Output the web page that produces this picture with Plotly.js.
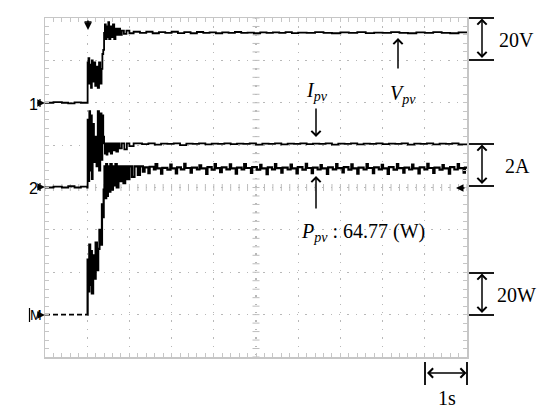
<!DOCTYPE html>
<html><head><meta charset="utf-8">
<script src="https://cdn.plot.ly/plotly-3.0.1.min.js"></script>
<style>html,body{margin:0;padding:0;background:#fff;}#chart{width:550px;height:414px;}</style>
</head><body><div id="chart"></div>
<script>
// ---- data (time in s, 1 s/div) ----
const tVpv = [0,0.2,0.4,0.55,0.7,0.85,1.00,1.01,1.03,1.05,1.07,1.09,1.11,1.13,1.16,1.19,1.22,1.25,1.28,1.31,1.34,1.36,1.38,1.40,1.42,1.44,1.46,1.48,1.50,1.52,1.55,1.58,1.61,1.64,1.67,1.70,1.74,1.78,1.82,1.87,1.93,2.00,2.10,2.25,2.4,2.55,2.7,2.85,3.0,3.15,3.3,3.45,3.6,3.75,3.9,4.05,4.2,4.35,4.5,4.65,4.8,4.95,5.1,5.25,5.4,5.55,5.7,5.85,6.0,6.2,6.4,6.6,6.8,7.0,7.2,7.4,7.6,7.8,8.0,8.2,8.4,8.6,8.8,9.0,9.2,9.4,9.6,9.8,10];
const vpv = [0,0.3,0,-0.3,0.2,0,0,19,21,9,18,7,20,10,19,8,17,7,19,9,16,23,25,33,37,30,36,31,38,30,36,31,37,30,35,32,35,32,34,32.5,34,32.8,33.5,33,33.5,32.8,33.3,33,33.5,32.9,33.3,32.8,33.4,33,33.2,32.8,33.2,33,33.4,33,33.1,32.8,33.2,33,33.2,33,33.3,32.9,33.1,33,33.3,33,32.8,33.2,33,33.3,32.9,33.1,33,33.3,33,32.8,33.2,33,33.3,33,32.8,33.2,33];

const tIpv = [0,0.2,0.4,0.55,0.7,0.85,1.00,1.01,1.03,1.05,1.07,1.09,1.11,1.13,1.16,1.19,1.22,1.25,1.28,1.31,1.34,1.36,1.38,1.40,1.42,1.44,1.46,1.48,1.50,1.53,1.56,1.59,1.62,1.65,1.69,1.73,1.77,1.82,1.88,1.94,2.0,2.1,2.3,2.45,2.6,2.75,2.9,3.05,3.2,3.35,3.5,3.65,3.8,3.95,4.1,4.25,4.4,4.55,4.7,4.85,5.0,5.15,5.3,5.45,5.6,5.75,5.9,6.05,6.2,6.35,6.5,6.65,6.8,6.95,7.1,7.25,7.4,7.55,7.7,7.85,8.0,8.15,8.3,8.45,8.6,8.75,8.9,9.05,9.2,9.35,9.5,9.65,9.8,10];
const ipv = [0,0.04,0,0.06,0,0.04,0,3.2,0.3,3.6,0.8,3.4,0.4,3.0,1.2,2.4,1.0,3.6,0.8,3.5,1.3,3.4,2.4,2.08,1.6,2.08,1.55,2.08,1.7,2.08,1.6,2.08,1.75,2.08,1.7,2.08,1.85,2.08,1.8,2.08,1.95,2.08,2.05,2.08,2.02,2.07,2.06,2.08,2.0,2.07,2.06,2.08,2.04,2.07,2.06,2.08,2.05,2.07,2.06,2.08,2.02,2.07,2.06,2.08,2.04,2.07,2.06,2.08,2.05,2.07,2.06,2.08,2.02,2.07,2.06,2.08,2.04,2.07,2.06,2.08,2.05,2.07,2.06,2.08,2.02,2.07,2.06,2.08,2.04,2.07,2.06,2.08,2.03,2.07];

const tPpvPre = [0,1.0];
const ppvPre = [0,0];
const tPpv = [1.00,1.01,1.03,1.05,1.07,1.09,1.11,1.14,1.17,1.20,1.23,1.26,1.29,1.32,1.35,1.37,1.39,1.41,1.43,1.45,1.47,1.49,1.52,1.55,1.58,1.61,1.64,1.67,1.70,1.74,1.78,1.82,1.86,1.90,1.95,2.0,2.06,2.12,
  2.2,2.25,2.32,2.36,2.45,2.48,2.58,2.62,2.66,2.75,2.78,2.9,2.97,3.0,3.1,3.13,3.22,3.3,3.33,3.45,3.48,3.6,3.66,3.7,3.82,3.85,3.95,4.02,4.05,4.15,4.19,4.3,4.38,4.41,4.52,4.55,4.66,4.72,4.76,4.88,4.91,5.02,5.1,5.13,5.25,5.28,5.38,5.45,5.48,5.6,5.63,5.75,5.82,5.85,5.96,5.99,6.1,6.18,6.21,6.32,6.35,6.46,6.53,6.56,6.68,6.71,6.82,6.9,6.93,7.05,7.08,7.19,7.26,7.29,7.4,7.43,7.55,7.62,7.65,7.77,7.8,7.91,7.98,8.01,8.12,8.15,8.26,8.34,8.37,8.49,8.52,8.63,8.7,8.73,8.85,8.88,8.99,9.06,9.09,9.2,9.23,9.35,9.42,9.45,9.57,9.6,9.7,9.78,9.81,9.92,9.95,10];
const ppv = [0,26,11,33,14,30,10,28,17,34,21,31,40,33,52,46,59,70,55,71,56,70,58,71,59,70,61,71,60,70,63,70,62,70,64,70,65,70,
  66,70,67.5,69.5,66.8,69.8,68.5,71,69,66.5,69.3,68.4,70.8,69,66.6,69.5,68.6,71.2,69.2,67,69.4,68.5,70.5,69,66.4,69.6,68.4,71,69.1,67.2,69.5,68.6,70.9,69,66.5,69.4,68.5,71.1,69.2,66.9,69.6,68.4,70.7,69,66.3,69.5,68.6,71,69.1,67,69.4,68.5,70.8,69,66.6,69.6,68.4,71.2,69.2,66.8,69.4,68.5,70.6,69,66.4,69.5,68.6,71,69.1,67.1,69.6,68.4,70.9,69,66.5,69.4,68.5,71.1,69.2,66.8,69.5,68.6,70.7,69,66.4,69.6,68.4,71,69.1,67,69.4,68.5,70.8,69,66.6,69.5,68.6,71.2,69.2,66.9,69.4,68.4,70.6,69,66.5,69.6,68.5,71,69.1,67,69.4,68.8];

// ---- geometry helpers (pixel -> paper) ----
const L = 45, T = 18, W = 422, H = 339;
const PX = p => (p - L) / W;
const PY = p => (T + H - p) / H;

// decorative centre-cross ticks (graticule)
const gx = [], gy = [];
for (let k = 0; k <= 50; k++) gx.push(k * 0.2);
for (let k = 0; k <= 40; k++) gy.push(k * 0.2);

const lineStyle = {color: '#000', width: 1.8, shape: 'hv'};
const traces = [
  {x: gx, y: gx.map(() => 4), xaxis: 'x', yaxis: 'y', mode: 'markers', hoverinfo: 'skip',
   marker: {symbol: 'line-ns', size: 5, line: {width: 1, color: '#bdbdbd'}}},
  {x: gy.map(() => 5), y: gy, xaxis: 'x', yaxis: 'y', mode: 'markers', hoverinfo: 'skip',
   marker: {symbol: 'line-ew', size: 5, line: {width: 1, color: '#bdbdbd'}}},
  {x: tVpv, y: vpv, name: 'Vpv', yaxis: 'y2', mode: 'lines', line: lineStyle},
  {x: tIpv, y: ipv, name: 'Ipv', yaxis: 'y3', mode: 'lines', line: lineStyle},
  {x: tPpvPre, y: ppvPre, name: 'Ppv0', yaxis: 'y4', mode: 'lines', line: {color: '#000', width: 1.8, dash: '5px,3px'}},
  {x: tPpv, y: ppv, name: 'Ppv', yaxis: 'y4', mode: 'lines', line: {color: '#000', width: 2.2, shape: 'hv'}}
];

const gridAxis = (range) => ({
  range: range, dtick: 1, tick0: 0, showgrid: true, gridcolor: '#b8b8b8', gridwidth: 1.2,
  griddash: '1.4px,7px', showline: true, linecolor: '#c6c6c6', linewidth: 1.5, mirror: 'ticks',
  ticks: 'inside', ticklen: 4, tickcolor: '#c6c6c6', tickwidth: 1,
  minor: {dtick: 0.2, ticks: 'inside', ticklen: 4, tickcolor: '#c6c6c6', tickwidth: 1, showgrid: false},
  showticklabels: false, zeroline: false, fixedrange: true
});
const hid = (range) => ({range: range, overlaying: 'y', visible: false, fixedrange: true});

const serif = 'Liberation Serif, Times New Roman, serif';
const sans = 'Liberation Sans, Arial, sans-serif';
const arr = (x, y, ax, ay, both, head, extra) => Object.assign({
  xref: 'paper', yref: 'paper', x: PX(x), y: PY(y), ax: ax, ay: ay, text: '', showarrow: true,
  arrowhead: head || 4, arrowwidth: 1.5, arrowsize: 1.2, arrowcolor: '#000', standoff: 0, startstandoff: 0,
  arrowside: both ? 'end+start' : 'end', startarrowhead: head || 4, startarrowsize: 1.2
}, extra || {});
const txt = (x, y, s, size, font, xa) => ({
  xref: 'paper', yref: 'paper', x: PX(x), y: PY(y), text: s, showarrow: false,
  xanchor: xa || 'center', yanchor: 'middle', font: {family: font, size: size, color: '#000'}
});
const hline = (x0, x1, y) => ({type: 'line', xref: 'paper', yref: 'paper', x0: PX(x0), x1: PX(x1), y0: PY(y), y1: PY(y), line: {color: '#000', width: 1.8}});
const vline = (x, y0, y1) => ({type: 'line', xref: 'paper', yref: 'paper', x0: PX(x), x1: PX(x), y0: PY(y0), y1: PY(y1), line: {color: '#000', width: 1.8}});

const layout = {
  width: 550, height: 414,
  margin: {l: L, r: 550 - L - W, t: T, b: 414 - T - H, pad: 0},
  paper_bgcolor: '#fff', plot_bgcolor: '#fff', showlegend: false,
  xaxis: gridAxis([0, 10]),
  yaxis: gridAxis([0, 8]),
  yaxis2: hid([-120, 40]),
  yaxis3: hid([-8, 8]),
  yaxis4: hid([-20, 140]),
  shapes: [
    hline(469, 494, 18), hline(469, 494, 60),
    hline(469, 494, 144), hline(469, 494, 186),
    hline(469, 494, 273), hline(469, 494, 315),
    vline(425, 362, 385), vline(467, 362, 385),
    {type: 'line', xref: 'paper', yref: 'paper', x0: PX(84.5), x1: PX(91.5), y0: PY(22), y1: PY(22), line: {color: '#000', width: 1.5}},
    {type: 'line', xref: 'paper', yref: 'paper', x0: PX(40), x1: PX(40), y0: PY(99), y1: PY(107), line: {color: '#000', width: 1.2}},
    {type: 'line', xref: 'paper', yref: 'paper', x0: PX(40), x1: PX(40), y0: PY(183), y1: PY(191), line: {color: '#000', width: 1.2}},
    {type: 'line', xref: 'paper', yref: 'paper', x0: PX(29.5), x1: PX(29.5), y0: PY(308), y1: PY(322), line: {color: '#000', width: 1.2}}
  ],
  annotations: [
    arr(482, 18.5, 0, 41, true),
    arr(482, 144.5, 0, 41, true),
    arr(482, 273.5, 0, 41, true),
    arr(466.5, 373, -41, 0, true),
    arr(316, 137, 0, -30, false),
    arr(398, 38, 0, 32, false),
    arr(316, 176, 0, 34, false),
    arr(88, 30, 0, -11, false, 2, {arrowsize: 1, arrowwidth: 1.5}),
    arr(456, 188, 10, 0, false, 2, {arrowsize: 1, arrowwidth: 1.5}),
    arr(45, 103, -9, 0, false, 2, {arrowsize: 1.1, arrowwidth: 1.4}),
    arr(45, 187, -9, 0, false, 2, {arrowsize: 1.1, arrowwidth: 1.4}),
    arr(45, 315, -5, 0, false, 2, {arrowsize: 1.1, arrowwidth: 1.4}),
    txt(33, 104, '1', 16, sans),
    txt(33, 188, '2', 16, sans),
    txt(35.5, 315, 'M', 14, sans),
    txt(497, 40, '20V', 20, serif, 'left'),
    txt(503, 166, '2A', 20, serif, 'left'),
    txt(495, 295, '20W', 20, serif, 'left'),
    txt(447, 398, '1s', 20, serif),
    txt(317, 92, '<i>I</i><sub><i>pv</i></sub>', 20, serif),
    txt(403, 94, '<i>V</i><sub><i>pv</i></sub>', 20, serif),
    txt(299, 233, '<i>P</i><sub><i>pv</i></sub> : 64.77 (W)', 20, serif, 'left')
  ]
};

Plotly.newPlot('chart', traces, layout, {displayModeBar: false, staticPlot: true});
</script>
</body></html>
